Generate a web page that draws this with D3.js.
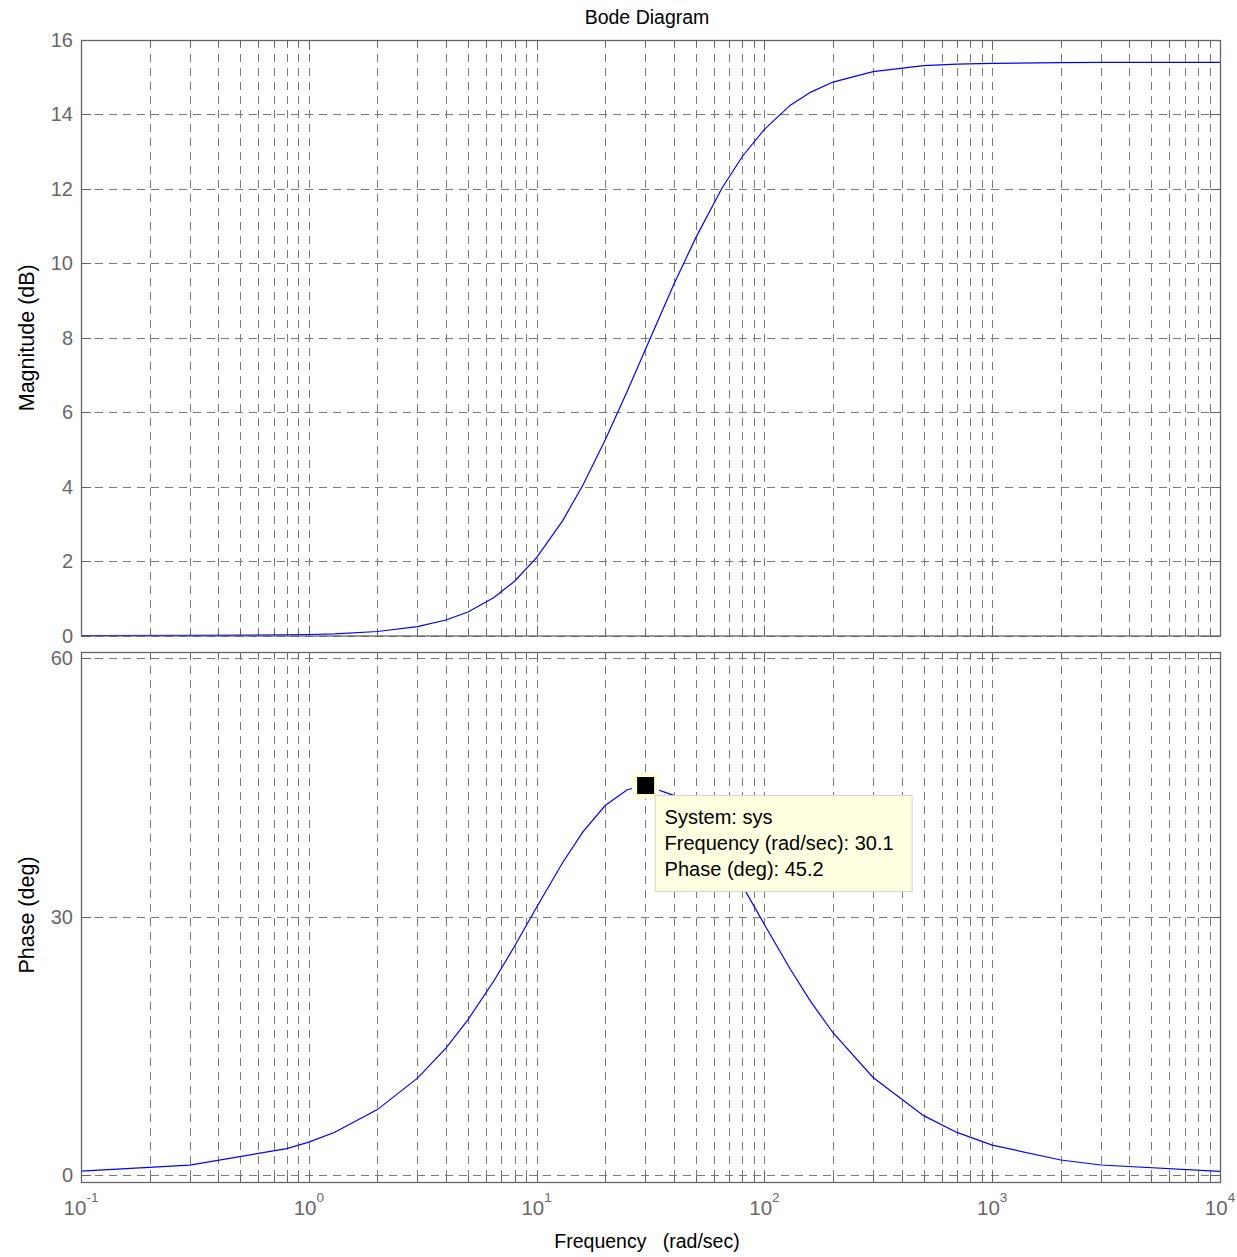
<!DOCTYPE html>
<html>
<head>
<meta charset="utf-8">
<script src="https://cdn.jsdelivr.net/npm/d3@7"></script>
<style>
  html, body { margin: 0; padding: 0; background: #fff; }
  svg { display: block; }
  text { font-family: "Liberation Sans", Arial, sans-serif; }
</style>
</head>
<body>
<svg id="chart" width="1237" height="1257"></svg>
<script>
// ---- data ----
const freq = [0.1, 0.3, 0.8, 1, 1.3, 2, 3, 4, 5, 6.5, 8, 10, 13, 16, 20, 25, 30.1, 40, 50, 65, 80, 100, 130, 160, 200, 300, 500, 700, 1000, 2000, 3000, 10000];
const magnitudeDb = [0.0, 0.003, 0.017, 0.027, 0.046, 0.108, 0.239, 0.416, 0.633, 1.019, 1.458, 2.09, 3.08, 4.05, 5.25, 6.56, 7.70, 9.43, 10.69, 12.01, 12.87, 13.60, 14.25, 14.60, 14.87, 15.15, 15.31, 15.35, 15.37, 15.39, 15.40, 15.40];
const phaseDeg = [0.45, 1.15, 3.06, 3.82, 4.96, 7.59, 11.24, 14.73, 18.03, 22.54, 26.55, 31.08, 36.24, 39.84, 42.88, 44.71, 45.20, 44.06, 41.67, 37.52, 33.58, 29.08, 23.88, 20.10, 16.51, 11.32, 6.89, 4.94, 3.47, 1.74, 1.16, 0.43];
const magTicks = [0, 2, 4, 6, 8, 10, 12, 14, 16];
const phaseTicks = [0, 30, 60];
const decadeExps = [-1, 0, 1, 2, 3, 4];
const dataTip = { system: "sys", freq: 30.1, phase: 45.2 };
const title = "Bode Diagram";
const xLabel = "Frequency   (rad/sec)";
const magLabel = "Magnitude (dB)";
const phaseLabel = "Phase (deg)";

// ---- layout ----
const L = 81, R = 1220;
const topPanel = { y0: 40, y1: 635.5 };
const botPanel = { y0: 652, y1: 1182 };
const frameColor = "#646464";
const gridColor = "#7a7a7a";
const tickTextColor = "#686868";

const svg = d3.select("#chart");

const x = d3.scaleLog().domain([0.1, 1e4]).range([L, R]);
const yMag = d3.scaleLinear().domain([0, 16]).range([topPanel.y1, topPanel.y0]);
const yPh = d3.scaleLinear().domain([0, 60]).range([1175, 658]);

// minor+major x positions
const xGridVals = [];
for (let e = -1; e < 4; e++) {
  for (let m = 1; m <= 9; m++) xGridVals.push(m * Math.pow(10, e));
}
xGridVals.push(1e4);

const px = v => Math.round(v) + 0.5;

function drawPanel(panel, yScale, yTicks, series) {
  const g = svg.append("g");
  g.selectAll("line.vg").data(xGridVals.filter(v => v > 0.1 && v < 1e4)).enter().append("line")
    .attr("x1", d => px(x(d))).attr("x2", d => px(x(d)))
    .attr("y1", panel.y0).attr("y2", panel.y1)
    .attr("stroke", gridColor).attr("stroke-width", 1).attr("stroke-dasharray", "8,6");
  g.selectAll("line.hg").data(yTicks).enter().append("line")
    .attr("x1", L).attr("x2", R)
    .attr("y1", d => px(yScale(d))).attr("y2", d => px(yScale(d)))
    .attr("stroke", gridColor).attr("stroke-width", 1).attr("stroke-dasharray", "8,6");
  xGridVals.forEach(v => {
    const isMajor = Math.abs(Math.log10(v) - Math.round(Math.log10(v))) < 1e-9;
    const len = isMajor ? 10 : 6;
    const xx = px(x(v));
    g.append("line").attr("x1", xx).attr("x2", xx).attr("y1", panel.y1).attr("y2", panel.y1 - len)
      .attr("stroke", frameColor).attr("stroke-width", 1);
    g.append("line").attr("x1", xx).attr("x2", xx).attr("y1", panel.y0).attr("y2", panel.y0 + len)
      .attr("stroke", frameColor).attr("stroke-width", 1);
  });
  yTicks.forEach(v => {
    const yy = px(yScale(v));
    g.append("line").attr("x1", L).attr("x2", L + 10).attr("y1", yy).attr("y2", yy)
      .attr("stroke", frameColor).attr("stroke-width", 1);
    g.append("line").attr("x1", R - 10).attr("x2", R).attr("y1", yy).attr("y2", yy)
      .attr("stroke", frameColor).attr("stroke-width", 1);
  });
  g.selectAll("text.yl").data(yTicks).enter().append("text")
    .attr("x", 73).attr("y", d => yScale(d) + 7)
    .attr("text-anchor", "end").attr("font-size", 20).attr("fill", tickTextColor)
    .text(d => d);
  const line = d3.line().x(d => x(d[0])).y(d => yScale(d[1]));
  g.append("path").datum(series).attr("d", line)
    .attr("fill", "none").attr("stroke", "#0000ff").attr("stroke-width", 1.2);
  g.append("rect").attr("x", L + 0.5).attr("y", panel.y0 + 0.5)
    .attr("width", R - L).attr("height", panel.y1 - panel.y0)
    .attr("fill", "none").attr("stroke", frameColor).attr("stroke-width", 1.3);
  return g;
}

drawPanel(topPanel, yMag, magTicks, freq.map((f, i) => [f, magnitudeDb[i]]));
drawPanel(botPanel, yPh, phaseTicks, freq.map((f, i) => [f, phaseDeg[i]]));

// x tick labels (10^n)
decadeExps.forEach(e => {
  const t = svg.append("text")
    .attr("x", x(Math.pow(10, e))).attr("y", 1215)
    .attr("text-anchor", "middle").attr("font-size", 20.5).attr("fill", tickTextColor);
  t.append("tspan").text("10");
  t.append("tspan").attr("font-size", 13.5).attr("dy", -13).text(e);
});

// titles
svg.append("text").attr("x", 647).attr("y", 24).attr("text-anchor", "middle")
  .attr("font-size", 19.5).attr("fill", "#000").text(title);
svg.append("text").attr("x", 647).attr("y", 1248).attr("text-anchor", "middle")
  .attr("font-size", 19.5).attr("fill", "#000")
  .style("white-space", "pre").text(xLabel);
svg.append("text").attr("transform", `translate(34,${(topPanel.y0 + topPanel.y1) / 2}) rotate(-90)`)
  .attr("text-anchor", "middle").attr("font-size", 21.5).attr("fill", "#000").text(magLabel);
svg.append("text").attr("transform", `translate(34,${(botPanel.y0 + botPanel.y1) / 2 - 2}) rotate(-90)`)
  .attr("text-anchor", "middle").attr("font-size", 21.5).attr("fill", "#000").text(phaseLabel);

// data tip
const mx = x(dataTip.freq), my = yPh(dataTip.phase);
svg.append("rect").attr("x", mx - 13.5).attr("y", my - 13.5).attr("width", 27).attr("height", 27)
  .attr("fill", "#ffffe1");
svg.append("rect").attr("x", mx - 8.5).attr("y", my - 8.5).attr("width", 17).attr("height", 17)
  .attr("fill", "#000");
const bx = mx + 9, by = my + 9.5;
svg.append("rect").attr("x", bx + 0.5).attr("y", by + 0.5).attr("width", 257).attr("height", 96)
  .attr("fill", "#ffffe1").attr("stroke", "#d4d4c8").attr("stroke-width", 1);
const tipLines = [
  `System: ${dataTip.system}`,
  `Frequency (rad/sec): ${dataTip.freq}`,
  `Phase (deg): ${dataTip.phase}`
];
svg.selectAll("text.tip").data(tipLines).enter().append("text")
  .attr("x", bx + 10).attr("y", (d, i) => by + 29 + i * 26)
  .attr("font-size", 20).attr("fill", "#000").text(d => d);
</script>
</body>
</html>
